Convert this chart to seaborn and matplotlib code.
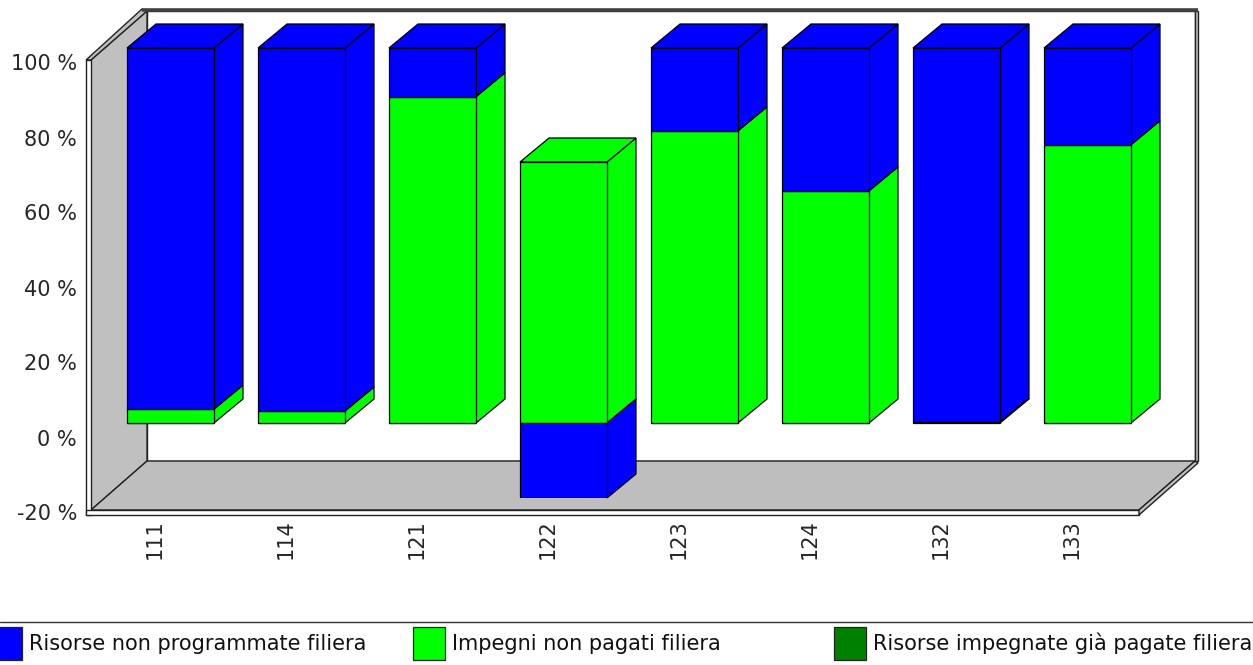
import numpy as np
import matplotlib
matplotlib.use("Agg")
import matplotlib.pyplot as plt
from matplotlib.patches import Patch
from matplotlib.transforms import ScaledTranslation
import seaborn as sns

# ─── Data ─────────────────────────────────────────────────────────────────────
categories = ["111", "114", "121", "122", "123", "124", "132", "133"]
paid = np.array([0, 0, 0, 0, 0, 0, 0.3, 0])
not_paid = np.array([3.7, 3.2, 87.0, 69.6, 77.9, 61.9, 0, 74.2])
not_programmed = np.array([96.3, 96.8, 13.0, -20.0, 22.1, 38.1, 99.7, 25.8])
y_ticks = [-20, 0, 20, 40, 60, 80, 100]
y_labels = ["-20 %", "0 %", "20 %", "40 %", "60 %", "80 %", "100 %"]
series_names = ["Risorse non programmate filiera", "Impegni non pagati filiera",
                "Risorse impegnate già pagate filiera"]

BLUE, GREEN, DARK = "#0000FF", "#00FF00", "#008000"
WALL, FLOOR = "#C0C0C0", "#BEBEBE"

# ─── Geometry (pixels) ────────────────────────────────────────────────────────
W, H = 1253, 665
PX_X = 1048 / 8     # pixels per category
PX_Y = 3.75         # pixels per percent

sns.set_theme(style="white")
plt.rcParams["font.family"] = ["DejaVu Sans"]
plt.rcParams["text.color"] = "#111111"

fig = plt.figure(figsize=(W / 100, H / 100), dpi=100)
fig.patch.set_facecolor("white")


def place(left, top, right, bottom):
    return [left / W, 1 - bottom / H, (right - left) / W, (bottom - top) / H]


# front plane of the box holds the axis labels, bars sit a bit further in
ax = fig.add_axes(place(91, 60, 1139, 510))
bar_ax = fig.add_axes(place(105, 48, 1153, 498))
for a in (ax, bar_ax):
    a.set_xlim(-0.5, 7.5)
    a.set_ylim(-20, 100)
bar_ax.patch.set_visible(False)
bar_ax.set_zorder(2)
ax.set_zorder(1)
ax.set_facecolor("white")


def sx(px):
    return px / PX_X


def sy(px):
    return px / PX_Y


# ─── Box walls ────────────────────────────────────────────────────────────────
x0, x1, y0, y1 = -0.5, 7.5, -20, 100
bx, by = sx(56), sy(49)
wall_kw = dict(edgecolor="#222222", linewidth=1.0, clip_on=False)
ax.fill([x0 + bx, x1 + bx, x1 + bx, x0 + bx], [y0 + by, y0 + by, y1 + by, y1 + by],
        facecolor="white", **wall_kw)
ax.fill([x0, x0, x0 + bx, x0 + bx], [y0, y1, y1 + by, y0 + by], facecolor=WALL, **wall_kw)
ax.fill([x0, x1, x1 + bx, x0 + bx], [y0, y0, y0 + by, y0 + by], facecolor=FLOOR, **wall_kw)

# thin slab round the box
t = sx(5)
ty = sy(5)
ax.fill([x0 - t, x0, x0, x0 - t], [y0 - ty, y0 - ty, y1, y1], facecolor="white", **wall_kw)
ax.fill([x0 - t, x1, x1, x0 - t], [y0 - ty, y0 - ty, y0, y0], facecolor="white", **wall_kw)
ax.fill([x0 - t, x0, x0 + bx, x0 + bx - t], [y1, y1, y1 + by, y1 + by + sy(2)],
        facecolor=WALL, **wall_kw)
ax.fill([x1, x1, x1 + bx + sx(3), x1 + bx], [y0, y0 - ty, y0 + by - sy(2), y0 + by],
        facecolor=WALL, **wall_kw)
ax.plot([x0 + bx - t, x1 + bx + sx(3)], [y1 + by + sy(1), y1 + by + sy(1)],
        color="#404040", lw=2.6, clip_on=False, solid_capstyle="butt")
ax.fill([x1 + bx, x1 + bx + sx(3), x1 + bx + sx(3), x1 + bx],
        [y0 + by, y0 + by, y1 + by, y1 + by], facecolor=WALL, **wall_kw)

# ─── Axis text ────────────────────────────────────────────────────────────────
sns.despine(ax=ax, left=True, bottom=True)
ax.set_yticks(y_ticks, y_labels, fontsize=15)
ax.set_xticks(range(len(categories)), categories, fontsize=15, rotation=90)
ax.tick_params(axis="y", length=0, pad=10)
ax.tick_params(axis="x", length=0, pad=7)
for lab in ax.get_yticklabels():
    lab.set_transform(lab.get_transform() + ScaledTranslation(0, -2.5 / 100, fig.dpi_scale_trans))
for lab in ax.get_xticklabels():
    lab.set_transform(lab.get_transform() + ScaledTranslation(-2 / 100, 0, fig.dpi_scale_trans))

# ─── Bars ─────────────────────────────────────────────────────────────────────
bar_kw = dict(width=0.664, saturation=1, edgecolor="black", linewidth=0.9,
              errorbar=None, ax=bar_ax, zorder=3)
sns.barplot(x=categories, y=paid, color=DARK, **bar_kw)
sns.barplot(x=categories, y=not_paid, bottom=paid, color=GREEN, **bar_kw)
sns.barplot(x=categories, y=not_programmed, color=BLUE,
            bottom=np.where(not_programmed >= 0, paid + not_paid, 0), **bar_kw)
bar_ax.axis("off")
bar_ax.set_xlim(-0.5, 7.5)
bar_ax.set_ylim(-20, 100)

# side and top faces come from the rectangles seaborn just drew
dx, dy = sx(29), sy(24)
stack_top = np.maximum(paid + not_paid + np.clip(not_programmed, 0, None), 0)
for rect in list(bar_ax.patches):
    h = rect.get_height()
    if h == 0:
        continue
    left, right = rect.get_x(), rect.get_x() + rect.get_width()
    low, high = sorted([rect.get_y(), rect.get_y() + h])
    colour = rect.get_facecolor()
    i = int(round((left + right) / 2))
    bar_ax.fill([right, right + dx, right + dx, right], [low, low + dy, high + dy, high],
                facecolor=colour, edgecolor="black", linewidth=0.9, clip_on=False, zorder=2)
    if abs(high - stack_top[i]) < 1e-6:
        bar_ax.fill([left, right, right + dx, left + dx], [high, high, high + dy, high + dy],
                    facecolor=colour, edgecolor="black", linewidth=0.9, clip_on=False, zorder=2)

# ─── Legend strip ─────────────────────────────────────────────────────────────
fig.add_artist(plt.Line2D([0, 1], [1 - 622 / H] * 2, color="#333333", lw=1.0))
for name, colour, x_px in zip(series_names, [BLUE, GREEN, DARK], [-10, 413, 834]):
    fig.legend(handles=[Patch(facecolor=colour, edgecolor="#222222", linewidth=0.9)],
               labels=[name], loc="center left", bbox_to_anchor=(x_px / W, 1 - 643.5 / H),
               frameon=False, fontsize=15, borderpad=0, borderaxespad=0,
               handlelength=1.55, handleheight=2.06, handletextpad=0.3)

fig.savefig("out.png", dpi=100)
